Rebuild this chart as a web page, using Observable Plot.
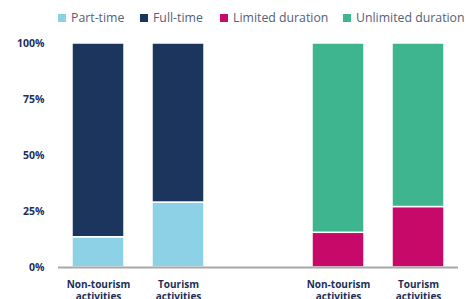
<!DOCTYPE html>
<html>
<head>
<meta charset="utf-8">
<script src="https://cdn.jsdelivr.net/npm/d3@7"></script>
<script src="https://cdn.jsdelivr.net/npm/@observablehq/plot@0.6"></script>
<style>
  html, body { margin: 0; padding: 0; background: #fff; }
  body { width: 469px; height: 299px; overflow: hidden; font-family: "Open Sans", sans-serif; }
  #legend { position: relative; height: 34px; }
  .item { position: absolute; top: 9px; display: flex; align-items: center; font-size: 12.3px; color: #56607a; white-space: nowrap; }
  .sw { width: 8px; height: 8px; margin-right: 5px; }
</style>
</head>
<body>
<div id="legend"></div>
<div id="chart"></div>
<script>
const categories = ["Non-tourism activities", "Tourism activities"];
const partTime = [13.5, 29];
const fullTime = [86.5, 71];
const limitedDuration = [15.5, 27];
const unlimitedDuration = [84.5, 73];
const seriesNames = ["Part-time", "Full-time", "Limited duration", "Unlimited duration"];
const seriesColors = ["#8dd1e6", "#1c355c", "#c70a69", "#3fb58f"];
const yTicks = [0, 25, 50, 75, 100];

// legend
const legendX = [58, 140, 220, 343];
const legend = document.getElementById("legend");
seriesNames.forEach((name, i) => {
  const d = document.createElement("div");
  d.className = "item";
  d.style.left = legendX[i] + "px";
  d.innerHTML = `<span class="sw" style="background:${seriesColors[i]}"></span>${name}`;
  legend.appendChild(d);
});

// data
const data = [];
categories.forEach((c, i) => {
  data.push({key: c + "|A", series: seriesNames[0], value: partTime[i]});
  data.push({key: c + "|A", series: seriesNames[1], value: fullTime[i]});
  data.push({key: c + "|B", series: seriesNames[2], value: limitedDuration[i]});
  data.push({key: c + "|B", series: seriesNames[3], value: unlimitedDuration[i]});
});
const xDomain = [categories[0] + "|A", categories[1] + "|A", "gap", categories[0] + "|B", categories[1] + "|B"];
const labelOf = k => k === "gap" ? "" : k.split("|")[0].replace(" ", "\n");

const chart = Plot.plot({
  width: 469,
  height: 265,
  marginLeft: 58,
  marginRight: 11,
  marginTop: 9,
  marginBottom: 32,
  style: {fontFamily: "Open Sans, sans-serif", color: "#1c2f5a"},
  x: {domain: xDomain, paddingInner: 0.35, paddingOuter: 0.175, label: null},
  y: {domain: [0, 100], label: null},
  color: {domain: seriesNames, range: seriesColors},
  marks: [
    Plot.barY(data, {x: "key", y: "value", fill: "series", stroke: "white", strokeWidth: 1.5}),
    Plot.ruleY([0], {stroke: "#a8a8a8", strokeWidth: 2}),
    Plot.axisY({ticks: yTicks, tickFormat: d => d + "%", tickSize: 0, tickPadding: 14, fontSize: 10.5, fontWeight: "bold", fill: "#1c2f5a", label: null}),
    Plot.axisX({tickFormat: labelOf, tickSize: 0, tickPadding: 12, fontSize: 10, fontWeight: "bold", fill: "#1c2f5a", lineHeight: 1.2, label: null})
  ]
});
document.getElementById("chart").appendChild(chart);
</script>
</body>
</html>
